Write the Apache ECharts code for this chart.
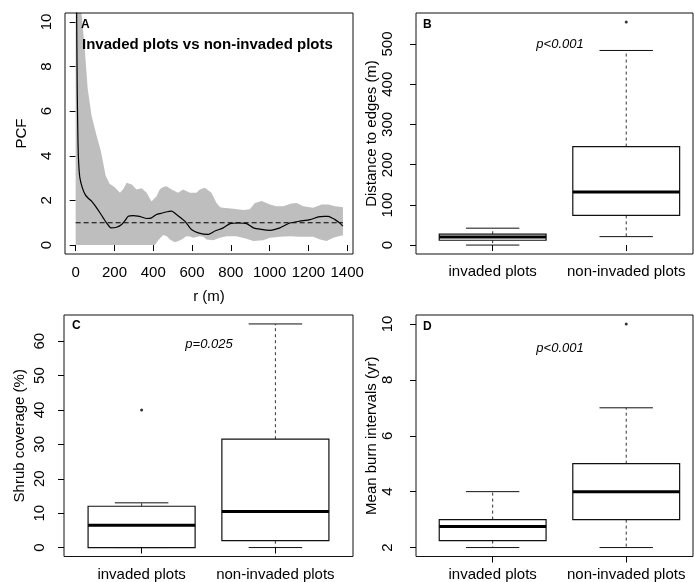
<!DOCTYPE html>
<html>
<head>
<meta charset="utf-8">
<script src="https://cdn.jsdelivr.net/npm/echarts@6/dist/echarts.min.js"></script>
<style>
html,body{margin:0;padding:0;background:#fff;}
#chart{width:694px;height:582px;}
</style>
</head>
<body>
<div id="chart"></div>
<script>
// ---------- Panel A: pair correlation function ----------
const rHi = [0, 15, 30, 45, 62, 82, 108, 130, 155, 175, 200, 228, 245, 263, 289, 314, 340, 366, 391, 417, 434, 451, 469, 494, 528, 554, 589, 623, 640, 666, 700, 726, 745, 761, 812, 864, 898, 924, 959, 1002, 1036, 1070, 1113, 1139, 1174, 1225, 1268, 1303, 1337, 1371, 1378];
const envHi = [14, 12, 10.4, 9.0, 7.0, 5.8, 4.9, 4.2, 3.1, 2.75, 2.6, 2.34, 2.5, 2.79, 2.72, 2.49, 2.55, 2.34, 1.95, 2.19, 2.5, 2.6, 2.64, 2.49, 2.34, 2.49, 2.34, 2.34, 2.49, 2.57, 2.34, 1.89, 1.7, 1.67, 1.63, 1.57, 1.6, 1.89, 1.97, 1.82, 1.74, 1.74, 1.86, 1.89, 1.74, 1.67, 1.82, 1.82, 1.74, 1.71, 1.7];
const rLo = [0, 409, 425, 440, 451, 470, 486, 511, 530, 546, 571, 590, 606, 640, 658, 675, 709, 743, 778, 829, 881, 916, 967, 1002, 1053, 1105, 1156, 1225, 1260, 1294, 1328, 1371, 1378];
const envLo = [0, 0, 0.2, 0.35, 0.45, 0.4, 0.25, 0.13, 0.18, 0.25, 0.4, 0.38, 0.33, 0.4, 0.37, 0.25, 0.22, 0.33, 0.4, 0.4, 0.28, 0.18, 0.22, 0.33, 0.37, 0.4, 0.37, 0.37, 0.25, 0.18, 0.33, 0.43, 0.43];
const rObs = [2, 5, 8, 12, 16, 22, 35, 50, 65, 82, 108, 125, 142, 160, 182, 211, 237, 255, 271, 297, 320, 340, 366, 391, 417, 440, 460, 494, 520, 545, 563, 580, 597, 632, 683, 718, 761, 796, 839, 882, 916, 959, 1002, 1053, 1105, 1156, 1208, 1251, 1280, 1303, 1337, 1360, 1378];
const pcfObs = [16, 10.4, 7.0, 4.6, 3.6, 3.0, 2.55, 2.25, 2.1, 1.97, 1.67, 1.45, 1.22, 0.98, 0.77, 0.8, 0.92, 1.1, 1.29, 1.32, 1.3, 1.26, 1.19, 1.22, 1.37, 1.42, 1.47, 1.52, 1.37, 1.2, 1.07, 0.88, 0.7, 0.55, 0.48, 0.63, 0.77, 0.96, 0.99, 0.96, 0.77, 0.7, 0.66, 0.77, 0.99, 1.07, 1.14, 1.26, 1.29, 1.29, 1.14, 1.0, 0.85];
const rTheo = [0, 1378];
const pcfTheo = [1, 1];
const xTicksA = [0, 200, 400, 600, 800, 1000, 1200, 1400];
const yTicksA = [0, 2, 4, 6, 8, 10];

// ---------- Box plots: [lower whisker, Q1, median, Q3, upper whisker] ----------
const categories = ['invaded plots', 'non-invaded plots'];
const distStats = [[0, 12, 20, 27, 42], [21, 74, 132, 245, 484]];
const distOutliers = [[2, 555]];
const shrubStats = [[0, 0, 6.5, 12, 13], [0, 2, 10.5, 31.5, 65]];
const shrubOutliers = [[1, 40]];
const burnStats = [[2, 2.25, 2.75, 3, 4], [2, 3, 4, 5, 7]];
const burnOutliers = [[2, 10]];
const yTicksB = [0, 100, 200, 300, 400, 500];
const yTicksC = [0, 10, 20, 30, 40, 50, 60];
const yTicksD = [2, 4, 6, 8, 10];

const FONT = '"Liberation Sans", Arial, sans-serif';
const LBL = {fontSize: 15, color: '#000', fontFamily: FONT};

function xCatAxis(gi, min, max) {
  return {
    gridIndex: gi, type: 'value', min: min, max: max,
    axisLine: {show: false}, splitLine: {show: false},
    axisTick: {show: true, customValues: [1, 2], length: 6, lineStyle: {color: '#000', width: 1}},
    axisLabel: Object.assign({show: true, customValues: [1, 2], margin: 10.5,
      formatter: v => categories[Math.round(v) - 1] || ''}, LBL)
  };
}
function yAxisDef(gi, min, max, ticks, name, margin, gap) {
  return {
    gridIndex: gi, type: 'value', min: min, max: max,
    axisLine: {show: false}, splitLine: {show: false},
    axisTick: {show: true, customValues: ticks, length: 6, lineStyle: {color: '#000', width: 1}},
    axisLabel: Object.assign({show: true, customValues: ticks, rotate: 90, margin: margin,
      formatter: v => String(v)}, LBL),
    name: name, nameLocation: 'middle', nameGap: gap, nameRotate: 90,
    nameTextStyle: {fontSize: 15, color: '#000', fontFamily: FONT}
  };
}

function boxRender(params, api) {
  const c = api.value(0);
  const lo = api.value(1), q1 = api.value(2), med = api.value(3), q3 = api.value(4), hi = api.value(5);
  const hw = 0.4, cw = 0.2;
  const tl = api.coord([c - hw, q3]);
  const br = api.coord([c + hw, q1]);
  const mL = api.coord([c - hw, med]), mR = api.coord([c + hw, med]);
  const wTop = api.coord([c, hi]), wQ3 = api.coord([c, q3]);
  const wBot = api.coord([c, lo]), wQ1 = api.coord([c, q1]);
  const capTL = api.coord([c - cw, hi]), capTR = api.coord([c + cw, hi]);
  const capBL = api.coord([c - cw, lo]), capBR = api.coord([c + cw, lo]);
  const stroke = '#111';
  const dash = {stroke: '#333', lineWidth: 1, lineDash: [3, 3]};
  return {
    type: 'group',
    children: [
      {type: 'line', shape: {x1: wQ3[0], y1: wQ3[1], x2: wTop[0], y2: wTop[1]}, style: dash},
      {type: 'line', shape: {x1: wQ1[0], y1: wQ1[1], x2: wBot[0], y2: wBot[1]}, style: dash},
      {type: 'line', shape: {x1: capTL[0], y1: capTL[1], x2: capTR[0], y2: capTR[1]}, style: {stroke: stroke, lineWidth: 1}},
      {type: 'line', shape: {x1: capBL[0], y1: capBL[1], x2: capBR[0], y2: capBR[1]}, style: {stroke: stroke, lineWidth: 1}},
      {type: 'rect', shape: {x: tl[0], y: tl[1], width: br[0] - tl[0], height: br[1] - tl[1]}, style: {fill: '#fff', stroke: stroke, lineWidth: 1.2}},
      {type: 'line', shape: {x1: mL[0], y1: mL[1], x2: mR[0], y2: mR[1]}, style: {stroke: '#000', lineWidth: 3}}
    ]
  };
}
function boxSeries(gi, stats) {
  return {
    type: 'custom', xAxisIndex: gi, yAxisIndex: gi, renderItem: boxRender, z: 3,
    data: stats.map((s, i) => [i + 1].concat(s)),
    encode: {x: 0, y: [1, 2, 3, 4, 5]}, silent: true
  };
}
function outlierSeries(gi, pts) {
  return {type: 'scatter', xAxisIndex: gi, yAxisIndex: gi, data: pts, symbol: 'circle', symbolSize: 3,
    itemStyle: {color: '#000'}, z: 4, silent: true};
}

const gridBase = {show: true, borderColor: '#111', borderWidth: 1, backgroundColor: 'transparent', z: 5, containLabel: false};

const option = {
  animation: false,
  backgroundColor: '#fff',
  grid: [
    Object.assign({left: 65, top: 13, width: 288, height: 241}, gridBase),
    Object.assign({left: 416, top: 13, width: 277, height: 241}, gridBase),
    Object.assign({left: 64, top: 315, width: 289, height: 242}, gridBase),
    Object.assign({left: 416, top: 315, width: 277, height: 242}, gridBase)
  ],
  xAxis: [
    {
      gridIndex: 0, type: 'value', min: -55, max: 1430,
      axisLine: {show: false}, splitLine: {show: false},
      axisTick: {show: true, customValues: xTicksA, length: 6, lineStyle: {color: '#000', width: 1}},
      axisLabel: Object.assign({show: true, customValues: xTicksA, margin: 11, formatter: v => String(v)}, LBL),
      name: 'r (m)', nameLocation: 'middle', nameGap: 35,
      nameTextStyle: {fontSize: 15, color: '#000', fontFamily: FONT}
    },
    xCatAxis(1, 0.426, 2.5), xCatAxis(2, 0.42, 2.58), xCatAxis(3, 0.426, 2.5)
  ],
  yAxis: [
    yAxisDef(0, -0.4, 10.4, yTicksA, 'PCF', 11, 36),
    yAxisDef(1, -22.2, 577.2, yTicksB, 'Distance to edges (m)', 21, 36),
    yAxisDef(2, -2.6, 67.6, yTicksC, 'Shrub coverage (%)', 17, 37),
    yAxisDef(3, 1.68, 10.32, yTicksD, 'Mean burn intervals (yr)', 21, 36)
  ],
  series: [
    {
      type: 'custom', xAxisIndex: 0, yAxisIndex: 0, clip: true, silent: true, z: 1,
      data: [[0]],
      renderItem: function (params, api) {
        const pts = [];
        for (let i = 0; i < rHi.length; i++) pts.push(api.coord([rHi[i], envHi[i]]));
        for (let i = rLo.length - 1; i >= 0; i--) pts.push(api.coord([rLo[i], envLo[i]]));
        return {type: 'polygon', shape: {points: pts}, style: {fill: '#bebebe', stroke: null}};
      }
    },
    {
      type: 'line', xAxisIndex: 0, yAxisIndex: 0, showSymbol: false, symbol: 'none', z: 2, silent: true,
      data: rTheo.map((r, i) => [r, pcfTheo[i]]),
      lineStyle: {color: '#000', width: 1, type: [5, 3]}
    },
    {
      type: 'line', xAxisIndex: 0, yAxisIndex: 0, showSymbol: false, symbol: 'none', z: 3, silent: true,
      smooth: 0.2, clip: true,
      data: rObs.map((r, i) => [r, pcfObs[i]]),
      lineStyle: {color: '#000', width: 1.2}
    },
    boxSeries(1, distStats), outlierSeries(1, distOutliers),
    boxSeries(2, shrubStats), outlierSeries(2, shrubOutliers),
    boxSeries(3, burnStats), outlierSeries(3, burnOutliers)
  ],
  graphic: [
    {type: 'text', x: 81, y: 25, z: 10, style: {text: 'A', font: 'bold 12px ' + FONT, fill: '#000', align: 'left', verticalAlign: 'middle'}},
    {type: 'text', x: 82, y: 45, z: 10, style: {text: 'Invaded plots vs non-invaded plots', font: 'bold 15px ' + FONT, fill: '#000', align: 'left', verticalAlign: 'middle'}},
    {type: 'text', x: 423, y: 25, z: 10, style: {text: 'B', font: 'bold 12px ' + FONT, fill: '#000', align: 'left', verticalAlign: 'middle'}},
    {type: 'text', x: 72, y: 326, z: 10, style: {text: 'C', font: 'bold 12px ' + FONT, fill: '#000', align: 'left', verticalAlign: 'middle'}},
    {type: 'text', x: 423, y: 326.5, z: 10, style: {text: 'D', font: 'bold 12px ' + FONT, fill: '#000', align: 'left', verticalAlign: 'middle'}},
    {type: 'text', x: 560, y: 44, z: 10, style: {text: 'p<0.001', font: 'italic 13px ' + FONT, fill: '#000', align: 'center', verticalAlign: 'middle'}},
    {type: 'text', x: 209, y: 344, z: 10, style: {text: 'p=0.025', font: 'italic 13px ' + FONT, fill: '#000', align: 'center', verticalAlign: 'middle'}},
    {type: 'text', x: 560, y: 348, z: 10, style: {text: 'p<0.001', font: 'italic 13px ' + FONT, fill: '#000', align: 'center', verticalAlign: 'middle'}}
  ]
};

const chart = echarts.init(document.getElementById('chart'), null, {renderer: 'canvas'});
chart.setOption(option);
</script>
</body>
</html>
